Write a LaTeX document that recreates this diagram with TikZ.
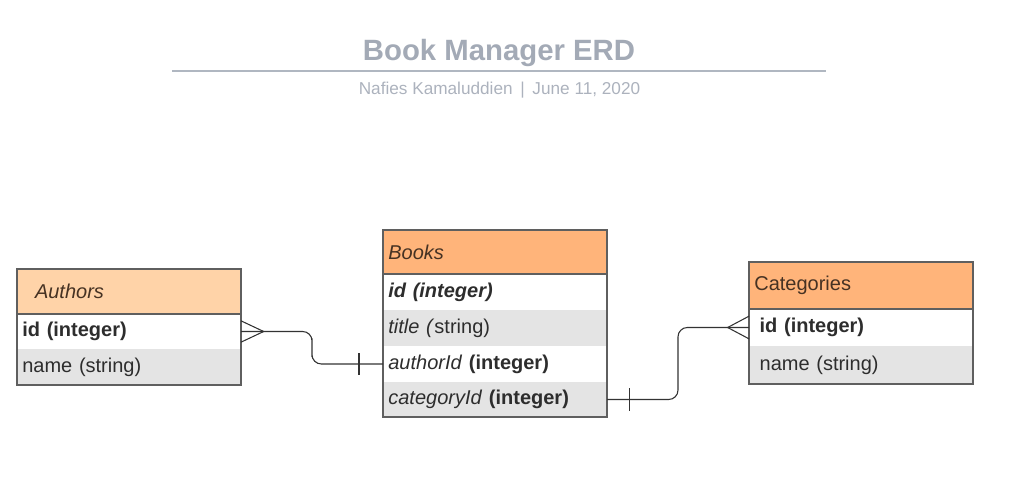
\documentclass[tikz,border=0pt]{standalone}
\usepackage{fontspec}
\setmainfont{Liberation Sans}
\usepackage{tikz}
\usetikzlibrary{positioning}
\usetikzlibrary{calc}
\definecolor{titlegray}{RGB}{163,170,182}
\definecolor{rulegray}{RGB}{176,183,193}
\definecolor{edgegray}{RGB}{95,95,95}
\definecolor{rowgray}{RGB}{228,228,228}
\definecolor{lightpeach}{RGB}{255,211,168}
\definecolor{peach}{RGB}{255,180,122}
\definecolor{headtext}{RGB}{70,50,35}
\definecolor{rowtext}{RGB}{45,45,45}
\tikzstyle{field}=[outer sep=0pt,minimum width=168pt,text width=160pt,inner xsep=4pt,inner ysep=0pt,align=left,font=\fontsize{15pt}{18pt}\selectfont,text=rowtext]
\tikzstyle{head}=[field,draw=edgegray,line width=1pt,text=headtext]
\tikzstyle{shade}=[fill=rowgray]
\tikzstyle{frame}=[draw=edgegray,line width=1pt]

\begin{document}
\begin{tikzpicture}[x=0.75pt,y=-0.75pt]
\tikzstyle{link}=[draw=black!80,line width=0.8pt]
\useasboundingbox (0,0) rectangle (1010,489);
% title block
\node [font=\fontsize{22pt}{26pt}\selectfont\bfseries,text=titlegray] (title) at (499,53) {Book Manager ERD};
\draw [rulegray,line width=2pt] (172,71) -- (826,71);
\node [font=\fontsize{12.9pt}{15pt}\selectfont,text=titlegray!90] (sub) at (499.5,90) {Nafies Kamaluddien \,|\, June 11, 2020};

% Authors
\node [head,fill=lightpeach,anchor=north west,minimum height=33.75pt,inner xsep=13.5pt,text width=141pt] (auth) at (17,269) {\textit{Authors}};
\node [field,minimum height=26.25pt,below=0pt of auth] (aid) {\textbf{id (integer)}};
\node [field,shade,minimum height=27pt,below=0pt of aid] (aname) {name (string)};
\draw [frame] (auth.north west) rectangle (aname.south east);

% Books
\node [head,fill=peach,anchor=north west,minimum height=33pt] (book) at (383,230) {\textit{Books}};
\node [field,minimum height=27pt,below=0pt of book] (bid) {\textbf{\textit{id (integer)}}};
\node [field,shade,minimum height=27pt,below=0pt of bid] (btitle) {\textit{title (}string)};
\node [field,minimum height=27pt,below=0pt of btitle] (bauthor) {\textit{authorId} \textbf{(integer)}};
\node [field,shade,minimum height=26.25pt,below=0pt of bauthor] (bcat) {\textit{categoryId} \textbf{(integer)}};
\draw [frame] (book.north west) rectangle (bcat.south east);

% Categories
\node [head,fill=peach,anchor=north west,minimum height=35.25pt] (cat) at (749,262) {Categories};
\node [field,minimum height=27.75pt,below=0pt of cat,inner xsep=8pt,text width=152pt] (cid) {\textbf{id (integer)}};
\node [field,shade,minimum height=28.5pt,below=0pt of cid,inner xsep=8pt,text width=152pt] (cname) {name (string)};
\draw [frame] (cat.north west) rectangle (cname.south east);

% Authors -- Books
\coordinate (A) at ([xshift=17pt]aid.east);
\coordinate (B) at ([xshift=-18pt]bauthor.west);
\draw [link] ([yshift=8pt]aid.east) -- (A) -- ([yshift=-8pt]aid.east);
\draw [link,rounded corners=7pt] (aid.east) -| ($(aid.east)!.5!(bauthor.west)$) |- (bauthor.west);
\draw [link] ([yshift=8pt]B) -- ([yshift=-8pt]B);

% Books -- Categories
\coordinate (C) at ([xshift=17pt]bcat.east);
\coordinate (D) at ([xshift=-16pt]cid.west);
\draw [link] ([yshift=8.5pt]C) -- ([yshift=-8.5pt]C);
\draw [link,rounded corners=7pt] (bcat.east) -| ($(bcat.east)!.5!(cid.west)$) |- (cid.west);
\draw [link] ([yshift=8.5pt]cid.west) -- (D) -- ([yshift=-8.5pt]cid.west);
\end{tikzpicture}
\end{document}
